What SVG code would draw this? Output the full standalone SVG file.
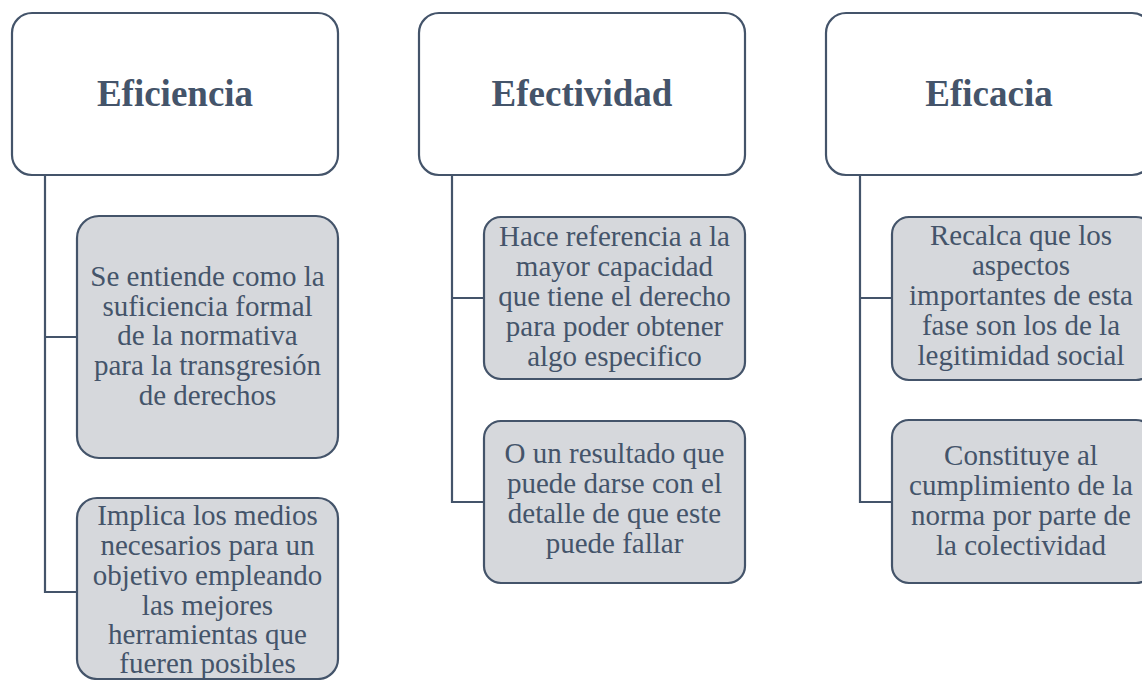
<svg xmlns="http://www.w3.org/2000/svg" width="1142" height="680" viewBox="0 0 1142 680">
<style>
.hdr{fill:#FFFFFF;stroke:#44546A;stroke-width:2.2}
.sub{fill:#D6D8DC;stroke:#44546A;stroke-width:2.2}
.con{fill:none;stroke:#44546A;stroke-width:2.2}
.t{font-family:"Liberation Serif","Times New Roman",serif;font-weight:bold;font-size:37px;fill:#44546A;text-anchor:middle}
.b{font-family:"Liberation Serif","Times New Roman",serif;font-size:29px;fill:#44546A;text-anchor:middle}
</style>
<rect width="1142" height="680" fill="#FFFFFF"/>
<g id="connectors">
<path class="con" d="M45 175 V592 H77 M45 337 H77"/>
<path class="con" d="M452 175 V502 H484 M452 298 H484"/>
<path class="con" d="M860 175 V502 H892 M860 298 H892"/>
</g>
<g id="eficiencia">
<rect class="hdr" x="12" y="13" width="326" height="162" rx="20"/>
<text class="t" x="175" y="106">Eficiencia</text>
</g>
<g id="eficiencia-1">
<rect class="sub" x="77" y="216" width="261" height="242" rx="22"/>
<text class="b" x="207.5" y="286">Se entiende como la</text>
<text class="b" x="207.5" y="315.5">suficiencia formal</text>
<text class="b" x="207.5" y="345">de la normativa</text>
<text class="b" x="207.5" y="375">para la transgresión</text>
<text class="b" x="207.5" y="405">de derechos</text>
</g>
<g id="eficiencia-2">
<rect class="sub" x="77" y="498" width="261" height="181" rx="20"/>
<text class="b" x="207.5" y="525">Implica los medios</text>
<text class="b" x="207.5" y="555">necesarios para un</text>
<text class="b" x="207.5" y="585">objetivo empleando</text>
<text class="b" x="207.5" y="615">las mejores</text>
<text class="b" x="207.5" y="644">herramientas que</text>
<text class="b" x="207.5" y="673">fueren posibles</text>
</g>
<g id="efectividad">
<rect class="hdr" x="419" y="13" width="326" height="162" rx="20"/>
<text class="t" x="582" y="106">Efectividad</text>
</g>
<g id="efectividad-1">
<rect class="sub" x="484" y="217" width="261" height="162" rx="17"/>
<text class="b" x="614.5" y="246">Hace referencia a la</text>
<text class="b" x="614.5" y="276">mayor capacidad</text>
<text class="b" x="614.5" y="306">que tiene el derecho</text>
<text class="b" x="614.5" y="336">para poder obtener</text>
<text class="b" x="614.5" y="366">algo especifico</text>
</g>
<g id="efectividad-2">
<rect class="sub" x="484" y="421" width="261" height="162" rx="17"/>
<text class="b" x="614.5" y="463">O un resultado que</text>
<text class="b" x="614.5" y="493">puede darse con el</text>
<text class="b" x="614.5" y="523">detalle de que este</text>
<text class="b" x="614.5" y="553">puede fallar</text>
</g>
<g id="eficacia">
<rect class="hdr" x="826" y="13" width="326" height="162" rx="20"/>
<text class="t" x="989" y="106">Eficacia</text>
</g>
<g id="eficacia-1">
<rect class="sub" x="892" y="217" width="261" height="163" rx="17"/>
<text class="b" x="1021" y="245">Recalca que los</text>
<text class="b" x="1021" y="275">aspectos</text>
<text class="b" x="1021" y="305">importantes de esta</text>
<text class="b" x="1021" y="335">fase son los de la</text>
<text class="b" x="1021" y="365">legitimidad social</text>
</g>
<g id="eficacia-2">
<rect class="sub" x="892" y="420" width="261" height="163" rx="17"/>
<text class="b" x="1021" y="465">Constituye al</text>
<text class="b" x="1021" y="495">cumplimiento de la</text>
<text class="b" x="1021" y="525">norma por parte de</text>
<text class="b" x="1021" y="555">la colectividad</text>
</g>
</svg>
